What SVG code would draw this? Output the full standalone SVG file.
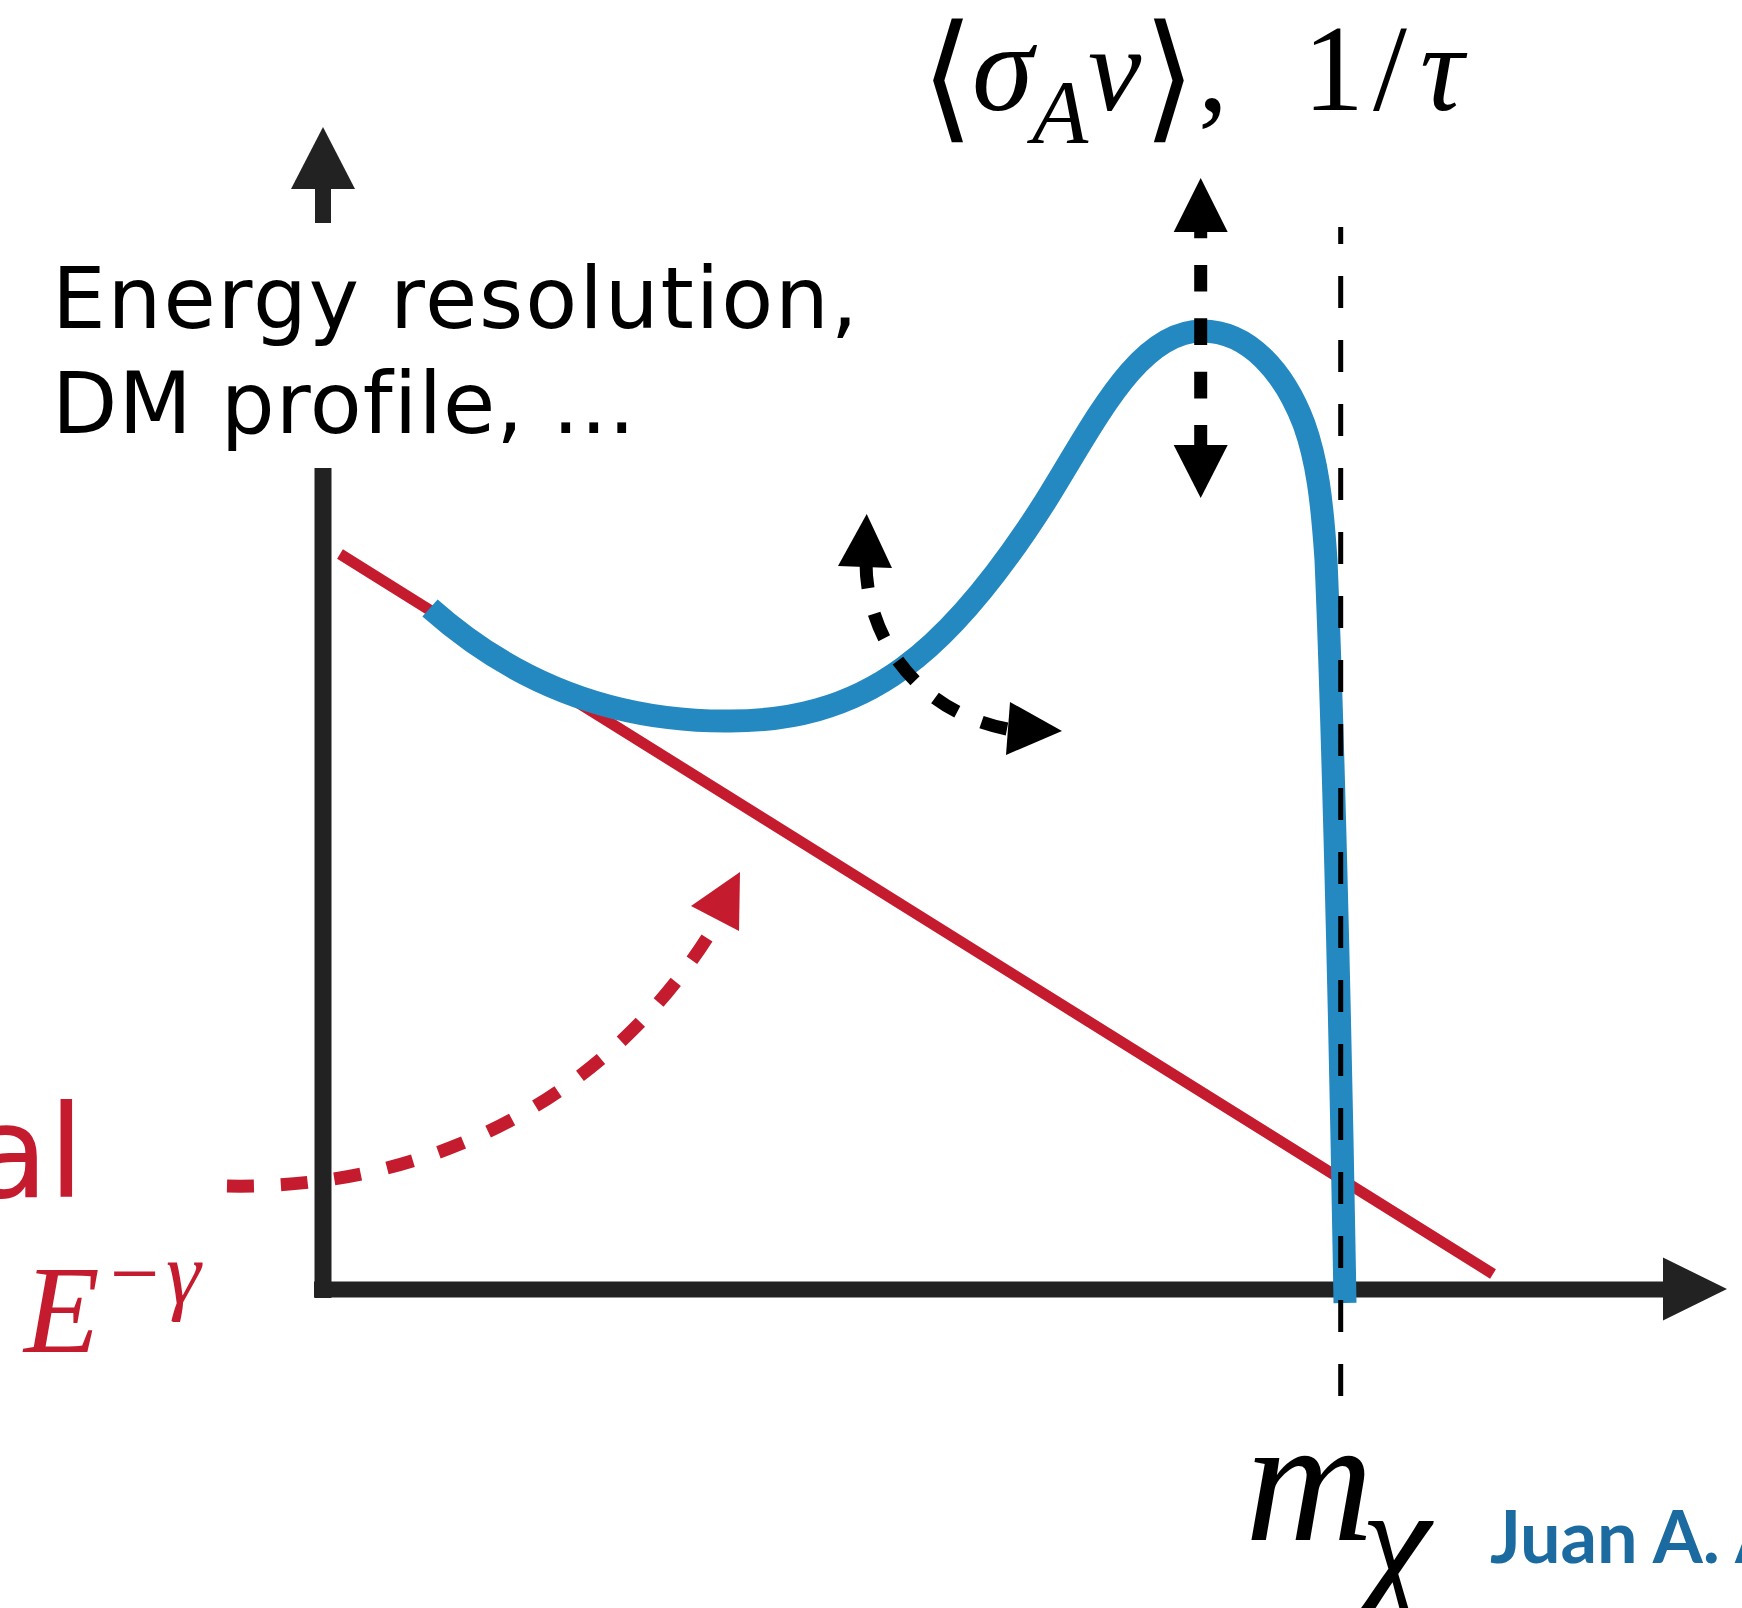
<svg xmlns="http://www.w3.org/2000/svg" width="1742" height="1608" viewBox="0 0 1742 1608">
<style>
.axis{stroke:#222222;fill:none}
.axhead{fill:#222222}
.blk{fill:#000000}
.red{stroke:#C41C2E;fill:none}
.blue{stroke:#2489C0;fill:none;stroke-width:23;stroke-linecap:butt;stroke-linejoin:round}
.sans{font-family:"DejaVu Sans","Liberation Sans",sans-serif;font-variant-ligatures:none;letter-spacing:1.9px}
.math{font-family:"Liberation Serif","DejaVu Serif",serif;font-style:italic}
.rom{font-family:"Liberation Serif","DejaVu Serif",serif}
.brk{font-family:"DejaVu Sans Light","DejaVu Sans",sans-serif;font-weight:200}
</style>
<rect width="1742" height="1608" fill="#ffffff"/>

<g id="axes">
  <line class="axis" x1="323" y1="223" x2="323" y2="186" stroke-width="16"/>
  <polygon class="axhead" points="323,127 291,189 355,189"/>
  <line class="axis" x1="323" y1="468" x2="323" y2="1298" stroke-width="17"/>
  <line class="axis" x1="314" y1="1289.5" x2="1666" y2="1289.5" stroke-width="16"/>
  <polygon class="axhead" points="1727,1289 1663,1257.5 1663,1320.5"/>
</g>

<g id="background-line">
  <line class="red" x1="340" y1="554" x2="1493" y2="1274" stroke-width="11"/>
</g>

<g id="signal-curve">
  <path class="blue" d="M430,608 C520,688 620,722 730,721 C788,721 847,709 903,668 C950,634 996,579 1045,502 C1095,422 1138,331 1202,331 C1250,331 1285,374 1304,424 C1317,460 1322,500 1326,560 C1332,700 1340,1000 1345,1303"/>
</g>

<g id="connectors">
  <line x1="1340.7" y1="227" x2="1340.7" y2="1396" stroke="#000" stroke-width="5" stroke-dasharray="32 32" stroke-dashoffset="15"/>
  <line x1="1200.7" y1="211.5" x2="1200.7" y2="452" stroke="#000" stroke-width="13" stroke-dasharray="26.7 26.7"/>
  <polygon class="blk" points="1200.7,178 1173.7,232 1227.7,232"/>
  <polygon class="blk" points="1173.7,445 1227.7,445 1200.7,498"/>
  <path d="M866,562 C866,640 920,712 1007,729" pathLength="900" fill="none" stroke="#000" stroke-width="13" stroke-dasharray="100 100"/>
  <polygon class="blk" points="866.7,514 838,566 892,568"/>
  <polygon class="blk" points="1062,731 1010,702 1006,755"/>
  <path class="red" d="M227,1186 C420,1190 600,1105 707,938" pathLength="2100" stroke-width="13" stroke-dasharray="100 100"/>
  <polygon fill="#C41C2E" points="740,872 691,906 739,931"/>
</g>

<g id="label-params">
  <text class="sans" font-size="85" fill="#000" x="52" y="328">Energy resolution,</text>
  <text class="sans" font-size="85" fill="#000" x="52" y="433" style="letter-spacing:1px">DM profile, ...</text>
</g>

<g id="label-rate">
  <text class="brk" font-size="118" fill="#000" transform="translate(921,124) scale(1.15,1.18)">⟨</text>
  <text class="math" font-size="124" fill="#000" x="972" y="110">σ</text>
  <text class="math" font-size="92" fill="#000" x="1032" y="143">A</text>
  <text class="math" font-size="120" fill="#000" x="1088" y="110">ν</text>
  <text class="brk" font-size="118" fill="#000" transform="translate(1143,124) scale(1.15,1.18)">⟩</text>
  <text class="rom" font-size="120" fill="#000" x="1198" y="110">,</text>
  <text class="rom" font-size="122" fill="#000" x="1303" y="110">1</text>
  <text class="rom" font-size="122" fill="#000" x="1373" y="110">/</text>
  <text class="math" font-size="122" fill="#000" x="1420" y="110">τ</text>
</g>

<g id="label-background">
  <text class="sans" font-size="128" fill="#C41C2E" x="-30" y="1197" style="letter-spacing:0">al</text>
  <text class="math" font-size="124" fill="#C41C2E" x="24" y="1352">E</text>
  <text class="rom" font-size="88" fill="#C41C2E" x="110" y="1303">−</text>
  <text class="math" font-size="88" fill="#C41C2E" x="166" y="1303">γ</text>
</g>

<g id="label-mass">
  <text class="math" font-size="178" fill="#000" x="1245" y="1540">m</text>
  <text class="math" font-size="158" fill="#000" x="1361" y="1594">χ</text>
</g>

<g id="credit">
  <text font-family="Lato, sans-serif" font-weight="bold" font-size="72" fill="#1B6AA0" x="1490" y="1563">Juan A. A</text>
</g>
</svg>
